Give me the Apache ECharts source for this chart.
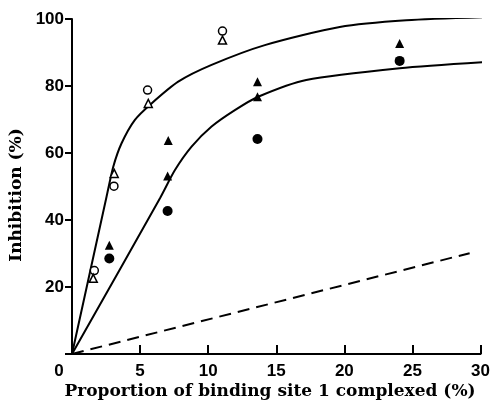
<!DOCTYPE html>
<html>
<head>
<meta charset="utf-8">
<script src="https://cdn.jsdelivr.net/npm/echarts@6/dist/echarts.min.js"></script>
<style>html,body{margin:0;padding:0;background:#fff}#c{width:493px;height:404px}</style>
</head>
<body>
<div id="c"></div>
<script>
const xTicks = [0, 5, 10, 15, 20, 25, 30];
const yTicks = [20, 40, 60, 80, 100];
const xTitle = 'Proportion of binding site 1 complexed (%)';
const yTitle = 'Inhibition (%)';
const openCircles = [[1.64, 24.9], [3.08, 50.1], [5.55, 78.8], [11.05, 96.4]];
const openTriangles = [[1.56, 22.6], [3.1, 53.9], [5.6, 74.8], [11.05, 93.7]];
const filledTriangles = [[2.74, 32.5], [7.07, 63.7], [7.02, 53.1], [13.62, 81.3], [13.62, 76.8], [24.06, 92.7]];
const filledCircles = [[2.74, 28.5], [7.02, 42.7], [13.62, 64.2], [24.06, 87.5]];
const upperCurve = [[0, 0], [2.54, 47.0], [3.03, 55.9], [3.64, 62.9], [4.62, 69.9], [5.84, 74.8], [7.8, 81.3], [10.25, 86.3], [14.16, 92.2], [19.66, 97.6], [24.55, 99.6], [30.2, 100.5]];
const lowerCurve = [[0, 0], [6.46, 46.5], [7.56, 54.9], [8.78, 61.9], [10.25, 67.9], [11.96, 72.8], [13.67, 76.8], [17.2, 81.8], [24.06, 85.3], [30.17, 87.1]];
const dashedLine = [[0, 0], [29.2, 30.1]];

const chart = echarts.init(document.getElementById('c'));
const labelFont = {fontFamily: 'Liberation Sans', fontWeight: 'bold', fontSize: 17, color: '#000'};
const lineSeries = (data, type) => ({
  type: 'line', data: data, showSymbol: false, symbol: 'none',
  smooth: type === 'dashed' ? false : 0.25,
  lineStyle: {color: '#000', width: 2, type: type === 'dashed' ? [12, 7] : 'solid'},
  silent: true, z: 2
});
const scatter = (data, symbol, size, filled) => ({
  type: 'scatter', data: data, symbol: symbol, symbolSize: size,
  itemStyle: {color: filled ? '#000' : '#fff', borderColor: '#000', borderWidth: filled ? 0 : 1.5, opacity: 1},
  z: 3
});
chart.setOption({
  animation: false,
  backgroundColor: '#fff',
  grid: {left: 72, right: 12, top: 19, bottom: 50},
  xAxis: {
    type: 'value', min: xTicks[0], max: xTicks[xTicks.length - 1], interval: 5,
    splitLine: {show: false},
    axisLine: {lineStyle: {color: '#000', width: 2}},
    axisTick: {inside: true, length: 9, lineStyle: {color: '#000', width: 2}},
    axisLabel: Object.assign({}, labelFont, {
      margin: 9,
      formatter: v => v === 0 ? '{z|0}' : String(v),
      rich: {z: Object.assign({}, labelFont, {padding: [0, 26, 0, 0]})}
    })
  },
  yAxis: {
    type: 'value', min: 0, max: yTicks[yTicks.length - 1], interval: 20,
    splitLine: {show: false},
    axisLine: {lineStyle: {color: '#000', width: 2}},
    axisTick: {inside: false, length: 7, lineStyle: {color: '#000', width: 2}},
    axisLabel: Object.assign({}, labelFont, {
      margin: 8,
      formatter: v => yTicks.indexOf(v) >= 0 ? String(v) : ''
    })
  },
  graphic: [
    {type: 'text', x: 270, y: 392,
     style: {text: xTitle, font: 'bold 17px "DejaVu Serif"', fill: '#000', align: 'center', verticalAlign: 'middle'}},
    {type: 'text', x: 17, y: 195, rotation: Math.PI / 2,
     style: {text: yTitle, font: 'bold 17px "DejaVu Serif"', fill: '#000', align: 'center', verticalAlign: 'middle'}}
  ],
  series: [
    lineSeries(upperCurve, 'solid'),
    lineSeries(lowerCurve, 'solid'),
    lineSeries(dashedLine, 'dashed'),
    scatter(openCircles, 'circle', 8, false),
    scatter(openTriangles, 'triangle', 8, false),
    scatter(filledTriangles, 'triangle', 9, true),
    scatter(filledCircles, 'circle', 10, true)
  ]
});
</script>
</body>
</html>
